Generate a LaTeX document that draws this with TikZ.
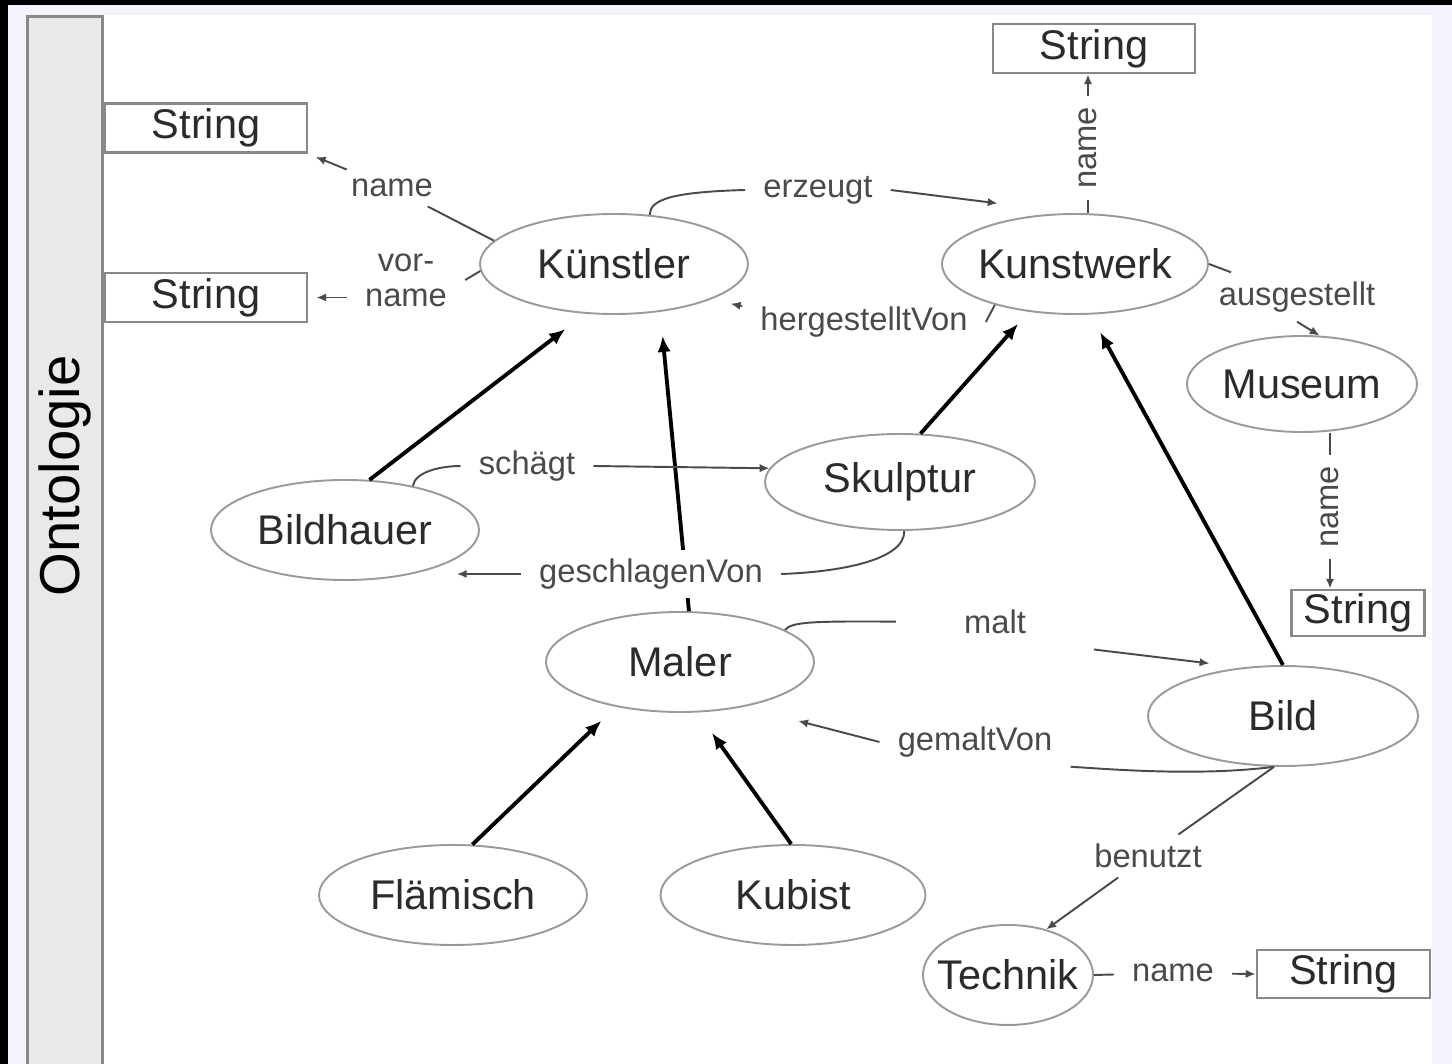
\documentclass[tikz,border=0pt]{standalone}
\usepackage{fontspec}
\setmainfont{Liberation Sans}
\usetikzlibrary{shapes.geometric,arrows.meta}

\definecolor{rahmen}{HTML}{F3F3FC}
\definecolor{leiste}{HTML}{E9E9E9}
\definecolor{randgrau}{HTML}{888888}
\definecolor{kreisgrau}{HTML}{9A9A9A}
\definecolor{textgrau}{HTML}{2B2B2B}
\definecolor{kantengrau}{HTML}{4A4A4A}

\tikzset{
  klasse/.style={ellipse, draw=kreisgrau, line width=0.55pt, minimum width=26.8mm,
    minimum height=10mm, inner sep=0pt, text=textgrau, font=\fontsize{11.8}{14}\selectfont},
  datentyp/.style={rectangle, draw=randgrau, line width=0.8pt, minimum height=4.9mm,
    inner sep=0pt, text=textgrau, font=\fontsize{11.8}{14}\selectfont},
  rolle/.style={inner xsep=5pt, inner ysep=2.5pt, text=kantengrau, font=\fontsize{9.3}{9.9}\selectfont},
  kante/.style={draw=kantengrau, line width=0.55pt},
  pfeil/.style={kante, -{Latex[length=2.8pt,width=2.4pt]}},
  erbt/.style={draw=black, line width=1.1pt, -{Latex[length=4.6pt,width=3.8pt]}}
}

\begin{document}
\begin{tikzpicture}[x=0.1mm,y=0.1mm]
        \useasboundingbox (0,0) rectangle (1452,-1064);
        % frame and side bar
        \fill[black] (0,0) rectangle (1452,-1064);
        \fill[rahmen] (8,-5) rectangle (1452,-1064);
        \fill[white] (104,-15) rectangle (1432,-1064);
        \filldraw[fill=leiste, draw=randgrau, line width=0.8pt] (27.5,-16.5) rectangle (102.5,-1080);
        \node[rotate=90, font=\fontsize{16}{18}\selectfont] (ontologie) at (65,-476) {Ontologie};

        % classes
        \node[klasse] (kuenstler) at (614,-264) {Künstler};
        \node[klasse, minimum width=26.6mm] (kunstwerk) at (1075,-264) {\makebox[0pt]{Kunstwerk}};
        \node[klasse, minimum width=23mm, minimum height=9.6mm] (museum) at (1302,-384) {\makebox[0pt]{Museum}};
        \node[klasse, minimum width=27mm, minimum height=9.6mm] (skulptur) at (900,-482) {Skulptur};
        \node[klasse] (bildhauer) at (345,-530) {Bildhauer};
        \node[klasse] (maler) at (680,-662) {Maler};
        \node[klasse, minimum width=27mm] (bild) at (1283,-716) {Bild};
        \node[klasse] (flaemisch) at (453,-895) {Flämisch};
        \node[klasse, minimum width=26.5mm] (kubist) at (793,-895) {Kubist};
        \node[klasse, minimum width=17mm] (technik) at (1008,-975) {\makebox[0pt]{Technik}};

        % data types
        \node[datentyp, minimum width=20.2mm] (string1) at (206,-128) {String};
        \node[datentyp, minimum width=20.2mm] (string2) at (206,-297.5) {String};
        \node[datentyp, minimum width=20.2mm] (string3) at (1094,-48.5) {String};
        \node[datentyp, minimum width=13.3mm, minimum height=4.6mm] (string4) at (1358,-613) {String};
        \node[datentyp, minimum width=17.3mm, minimum height=4.8mm] (string5) at (1343.5,-974) {String};

        % subclass arrows
        \draw[erbt, shorten >=2.5mm] (bildhauer.64) -- (kuenstler.240);
        \draw[erbt, shorten >=2.4mm] (maler.80) -- (kuenstler.-46);
        \draw[erbt, shorten >=1.6mm] (skulptur.67) -- (kunstwerk.226);
        \draw[erbt, shorten >=2mm] (bild.north) -- (kunstwerk.-73);
        \draw[erbt, shorten >=2mm] (flaemisch.69) -- (maler.215);
        \draw[erbt, shorten >=2.5mm] (kubist.92) -- (maler.-71);

        % relation labels
        \node[rolle] (relname1) at (392,-188) {name};
        \node[rolle, align=center] (relvorname) at (406,-280) {vor-\\name};
        \node[rolle] (relerzeugt) at (818,-190) {erzeugt};
        \node[rolle] (relhergestellt) at (864,-322) {hergestelltVon};
        \node[rolle, rotate=90, inner xsep=3pt] (relname2) at (1088,-148) {name};
        \node[rolle] (relausgestellt) at (1297,-297) {ausgestellt};
        \node[rolle, rotate=90, inner xsep=3pt] (relname3) at (1330,-507) {name};
        \node[rolle] (relschaegt) at (527,-466) {schägt};
        \node[rolle, fill=white] (relgeschlagen) at (651,-574) {geschlagenVon};
        \node[rolle] (relmalt) at (995,-622) {malt};
        \node[rolle] (relgemalt) at (975,-742) {gemaltVon};
        \node[rolle] (relbenutzt) at (1148,-856) {benutzt};
        \node[rolle] (relname4) at (1173,-973) {name};

        % relations
        \draw[kante] (kuenstler.169) -- (relname1);
        \draw[pfeil, shorten >=0.8mm] (relname1) -- (string1.south east);
        \draw[kante] (kuenstler.183) -- (relvorname.east);
        \draw[pfeil, shorten >=0.8mm] (relvorname.west |- string2.east) -- (string2.east);
        \draw[kante] (kuenstler.54) .. controls (650,-200) and (670,-192) .. (relerzeugt.west);
        \draw[pfeil, shorten >=7.8mm] (relerzeugt.east) -- (kunstwerk.north);
        \draw[kante] (kunstwerk.207) .. controls (990,-313) .. (relhergestellt.east);
        \draw[pfeil, shorten >=2mm] ([yshift=4.5pt]relhergestellt.west) -- (kuenstler.-20);
        \draw[kante] (relname2 |- kunstwerk.north) -- (relname2);
        \draw[pfeil] (relname2) -- (relname2 |- string3.south);
        \draw[kante] (kunstwerk.east) -- (relausgestellt);
        \draw[pfeil] (relausgestellt.south) -- (museum.70);
        \draw[kante] (relname3 |- museum.south) -- (relname3);
        \draw[pfeil] (relname3) -- (relname3 |- string4.north);
        \draw[kante] (bildhauer.33) .. controls (415,-472) and (440,-466) .. (relschaegt.west);
        \draw[pfeil] (relschaegt.east) -- (skulptur.174);
        \draw[kante] (skulptur.-85) .. controls (905,-560) and (840,-572) .. (relgeschlagen.east);
        \draw[pfeil, shorten >=3.8mm] (relgeschlagen.west) -- (relgeschlagen.west -| bildhauer.-30);
        \draw[kante, shorten >=5mm] (maler.17) .. controls (792,-622) and (810,-621) .. (relmalt.west);
        \draw[pfeil, shorten <=5mm, shorten >=3.3mm] (relmalt.south east) -- (bild.130);
        \draw[kante] (bild.-100) .. controls (1200,-776) and (1120,-770) .. (relgemalt.south east);
        \draw[pfeil, shorten >=5.6mm] (relgemalt.west) -- (maler.-35);
        \draw[kante] (bild.-100) -- (relbenutzt);
        \draw[pfeil] (relbenutzt) -- (technik.50);
        \draw[kante] (technik.east) -- (relname4);
        \draw[pfeil] (relname4) -- (string5.west);
\end{tikzpicture}
\end{document}
